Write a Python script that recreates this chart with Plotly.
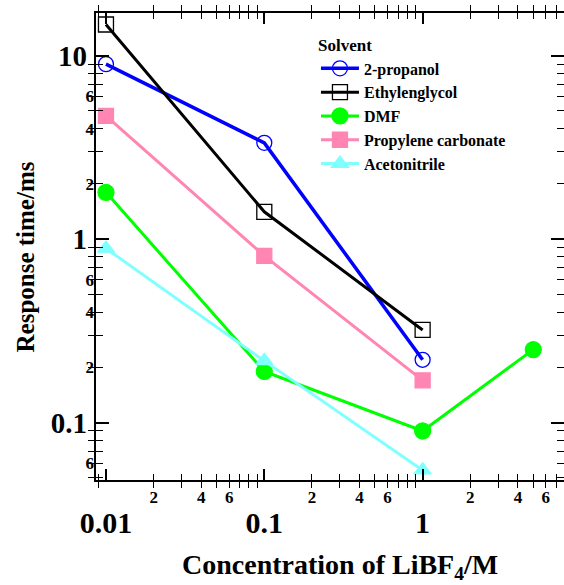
import plotly.graph_objects as go

# ---- data ----
conc = [0.01, 0.1, 1]
conc_dmf = [0.01, 0.1, 1, 5]
propanol = [9.0, 3.35, 0.22]
ethylenglycol = [14.8, 1.41, 0.32]
dmf = [1.8, 0.19, 0.090, 0.25]
propylene_carbonate = [4.7, 0.81, 0.17]
acetonitrile = [0.89, 0.217, 0.055]

x_major_vals = [0.01, 0.1, 1]
x_major_text = ["0.01", "0.1", "1"]
x_minor_vals = [m * d for d in (0.001, 0.01, 0.1, 1) for m in range(2, 10)]
x_minor_text = [str(m) if m in (2, 4, 6) else " " for d in (0.001, 0.01, 0.1, 1) for m in range(2, 10)]
y_major_vals = [0.1, 1, 10]
y_major_text = ["0.1", "1", "10"]
y_minor_vals = [m * d for d in (0.01, 0.1, 1, 10) for m in range(2, 10)]
y_minor_text = [str(m) if m in (2, 4, 6) else " " for d in (0.01, 0.1, 1, 10) for m in range(2, 10)]

XRANGE = [-2.063, 0.893]
YRANGE = [-1.313, 1.233]
FONT = "Liberation Serif"

fig = go.Figure()

series = [
    ("2-propanol", conc, propanol, "#0000FF", "circle-open", 15, 3.5),
    ("Ethylenglycol", conc, ethylenglycol, "#000000", "square-open", 15, 3),
    ("DMF", conc_dmf, dmf, "#00FF00", "circle", 16, 3),
    ("Propylene carbonate", conc, propylene_carbonate, "#FF85B2", "square", 15, 3),
    ("Acetonitrile", conc, acetonitrile, "#80FFFF", "triangle-up", 15, 3),
]
for name, xs, ys, col, sym, sz, lw in series:
    fig.add_trace(go.Scatter(
        x=xs, y=ys, name=name, mode="lines+markers",
        line=dict(color=col, width=lw),
        marker=dict(symbol=sym, size=sz, color=col,
                    line=dict(color=col, width=1.3)),
    ))

# empty helper traces so the overlaid tick / frame axes are drawn
fig.add_trace(go.Scatter(x=[], y=[], xaxis="x2", yaxis="y", showlegend=False, hoverinfo="skip"))
fig.add_trace(go.Scatter(x=[], y=[], xaxis="x", yaxis="y2", showlegend=False, hoverinfo="skip"))
fig.add_trace(go.Scatter(x=[], y=[], xaxis="x", yaxis="y3", showlegend=False, hoverinfo="skip"))

xcommon = dict(type="log", showgrid=False, zeroline=False, range=XRANGE,
               showline=True, linecolor="black", linewidth=1.5,
               ticks="inside", tickcolor="black", mirror="allticks", tickmode="array")
ycommon = dict(type="log", showgrid=False, zeroline=False, range=YRANGE,
               showline=False, ticks="inside", tickcolor="black", mirror="allticks",
               tickmode="array")

fig.update_layout(
    width=564, height=585,
    margin=dict(l=96, r=0, t=13, b=105),
    paper_bgcolor="white", plot_bgcolor="white",
    showlegend=True,
    legend=dict(
        x=0.47, y=0.965, xanchor="left", yanchor="top",
        bgcolor="rgba(0,0,0,0)", borderwidth=0,
        title=dict(text="Solvent", font=dict(family=FONT, size=17, color="black", weight="bold")),
        font=dict(family=FONT, size=16, color="black", weight="bold"),
        itemwidth=38, tracegroupgap=0,
    ),
    xaxis=dict(**xcommon, tickvals=x_minor_vals, ticktext=x_minor_text,
               ticklen=6, tickwidth=1.2, ticklabelstandoff=1,
               tickfont=dict(family=FONT, size=17, color="black", weight="bold")),
    xaxis2=dict(**xcommon, overlaying="x", anchor="y", side="bottom",
                tickvals=x_major_vals, ticktext=x_major_text,
                ticklen=11, tickwidth=1.5, ticklabelstandoff=15,
                tickfont=dict(family=FONT, size=30, color="black", weight="bold")),
    yaxis=dict(**ycommon, tickvals=y_minor_vals, ticktext=y_minor_text,
               ticklen=7, tickwidth=1.2, ticklabelstandoff=1,
               tickfont=dict(family=FONT, size=17, color="black", weight="bold")),
    yaxis2=dict(**ycommon, overlaying="y", anchor="x", side="left",
                tickvals=y_major_vals, ticktext=y_major_text,
                ticklen=13, tickwidth=1.5, ticklabelstandoff=8,
                tickfont=dict(family=FONT, size=29, color="black", weight="bold")),
    yaxis3=dict(type="log", range=YRANGE, overlaying="y", anchor="x", side="left",
                showgrid=False, zeroline=False, showticklabels=False, ticks="",
                showline=True, linecolor="black", linewidth=1.5, mirror=False),
    annotations=[
        dict(text="Response time/ms", xref="paper", yref="paper", x=0, y=0.5,
             xanchor="center", yanchor="middle", xshift=-71, yshift=-11, textangle=-90,
             showarrow=False,
             font=dict(family=FONT, size=25, color="black", weight="bold")),
        dict(text="Concentration of LiBF<sub>4</sub>/M", xref="paper", yref="paper", x=0.5, y=0,
             xanchor="center", yanchor="middle", xshift=10, yshift=-86, showarrow=False,
             font=dict(family=FONT, size=28, color="black", weight="bold")),
    ],
)

fig.write_html("out.html", config={"displayModeBar": False},
               post_script="document.body.style.margin='0px';document.body.style.overflow='hidden';")
